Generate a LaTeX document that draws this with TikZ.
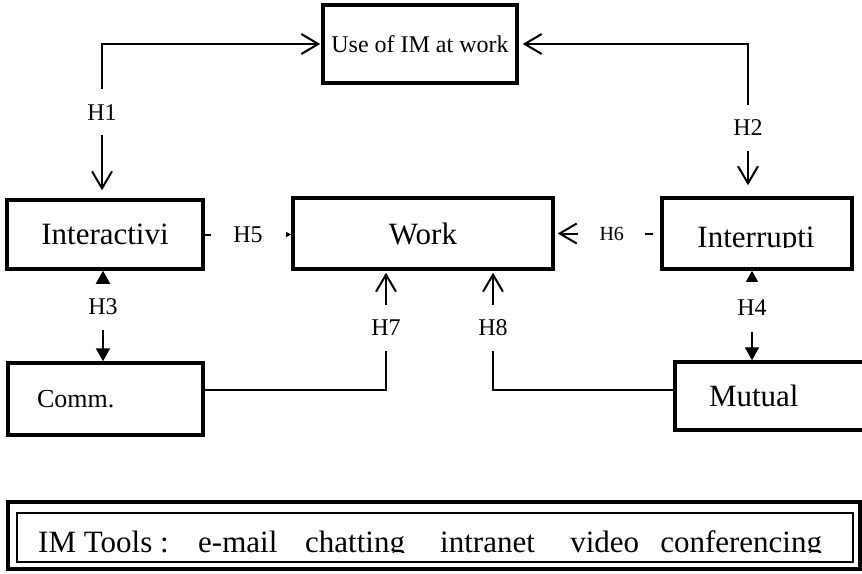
\documentclass[tikz,border=0pt]{standalone}
\usepackage{fontspec}
\setmainfont{Liberation Serif}
\usetikzlibrary{arrows.meta}
\newcommand\FntBig{\fontsize{31}{36}\selectfont}
\newcommand\FntUse{\fontsize{24}{28}\selectfont}
\newcommand\FntComm{\fontsize{26}{30}\selectfont}
\newcommand\FntLab{\fontsize{24}{28}\selectfont}
\newcommand\FntLabS{\fontsize{20}{24}\selectfont}
\newcommand\FntTools{\fontsize{31}{34}\selectfont}
\tikzset{
  obarb/.tip={Straight Barb[length=17pt,width=20pt]},
  ftri/.tip={Triangle[length=13pt,width=14pt]},
  stri/.tip={Triangle[length=9pt,width=9pt]}
}
\begin{document}
\begin{tikzpicture}[x=1pt,y=-1pt,
  box/.style={draw, line width=3.5pt, inner sep=0pt, font=\FntBig},
  conn/.style={line width=2pt},
  lab/.style={fill=white, font=\FntLab, inner sep=0pt, text height=16pt, text depth=0pt},
  vlab/.style={lab, minimum height=46pt}
]
\useasboundingbox (0,0) rectangle (862,573);

% boxes
\node[box, font=\FntUse, minimum width=194pt, minimum height=78pt] (use) at (420,44) {Use of IM at work};
\node[box, minimum width=196pt, minimum height=69pt] (inter) at (105,234.5) {Interactivi};
\node[box, minimum width=260pt, minimum height=71pt] (work) at (423,233.5) {Work};
\node[box, minimum width=190pt, minimum height=71pt] (interr) at (757,233.5) {};
\begin{scope}
  \clip (interr.north west) rectangle (interr.east |- 0,247);
  \node[anchor=base, font=\FntBig, inner sep=0pt] (interrtext) at (756,247) {Interrupti};
\end{scope}
\node[box, font=\FntComm, inner xsep=29pt, text width=137pt, align=left, minimum height=72pt] (comm) at (105.5,399) {Comm.};
\node[box, inner xsep=34pt, text width=123pt, align=left, minimum height=68pt] (mutual) at (770.5,396) {Mutual};

% connectors
\draw[conn, obarb-obarb, shorten <=8pt, shorten >=1pt] ([xshift=-3pt]inter.north) |- (use.west)
  node[vlab, pos=0.278] (h1) {H1};
\draw[conn, obarb-obarb, shorten <=11pt, shorten >=4pt] ([xshift=-9pt]interr.north) |- (use.east)
  node[vlab, pos=0.225] (h2) {H2};
\draw[conn, ftri-ftri] ([xshift=-2pt]inter.south) -- ([xshift=-2pt]inter.south |- comm.north)
  node[vlab, pos=0.40] (h3) {H3};
\draw[conn, ftri-ftri] ([xshift=-5pt]interr.south) -- ([xshift=-5pt]interr.south |- mutual.north)
  node[lab, minimum height=50pt, pos=0.41] (h4) {H4};
\draw[conn, -stri] (inter.east) -- (inter.east -| work.west)
  node[lab, minimum width=75pt, pos=0.5] (h5) {H5};
\draw[conn, -obarb, shorten <=7pt, shorten >=3pt] (interr.west) -- (interr.west -| work.east)
  node[lab, font=\FntLabS, text height=13pt, minimum width=67pt, pos=0.46] (h6) {H6};
\draw[conn, -obarb, shorten >=2pt] ([yshift=9pt]comm.east) -| ([xshift=-37pt]work.south)
  node[vlab, pos=0.76] (h7) {H7};
\draw[conn, -obarb, shorten >=2pt] ([yshift=6pt]mutual.west) -| ([xshift=70pt]work.south)
  node[vlab, pos=0.76] (h8) {H8};

% IM tools
\node[draw, line width=3.5pt, inner sep=0pt, minimum width=852pt, minimum height=67pt] (tools) at (434,535.5) {};
\node[draw, line width=1.5pt, inner sep=0pt, minimum width=836pt, minimum height=49pt] (toolsin) at (435,537.5) {};
\begin{scope}
  \clip (toolsin.north west) rectangle (toolsin.east |- 0,552);
  \node[anchor=base west, font=\FntTools, inner sep=0pt] (toolstext) at (38,552)
    {\makebox[160pt][l]{IM Tools :}\makebox[107pt][l]{e-mail}\makebox[135pt][l]{chatting}\makebox[130pt][l]{intranet}\makebox[90pt][l]{video}conferencing};
\end{scope}
\end{tikzpicture}
\end{document}
